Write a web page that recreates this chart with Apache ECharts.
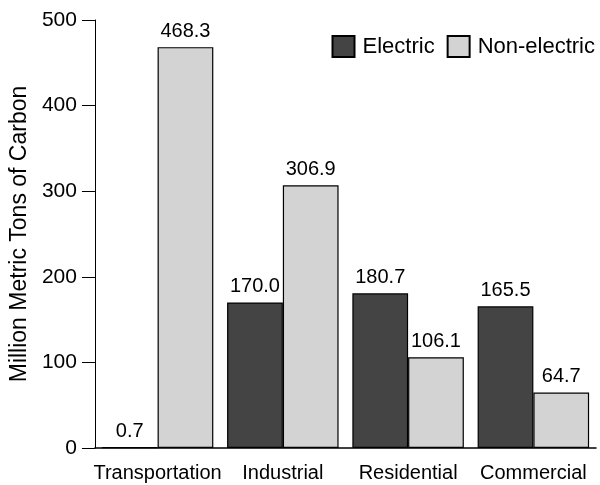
<!DOCTYPE html>
<html>
<head>
<meta charset="utf-8">
<script src="https://cdn.jsdelivr.net/npm/echarts@6/dist/echarts.min.js"></script>
<style>
  html, body { margin: 0; padding: 0; background: #ffffff; }
  #chart { width: 600px; height: 485px; }
</style>
</head>
<body>
<div id="chart"></div>
<script>
// Carbon emissions by end-use sector, split by electric / non-electric sources
const sectors = ['Transportation', 'Industrial', 'Residential', 'Commercial'];
const electric = [0.7, 170.0, 180.7, 165.5];
const nonElectric = [468.3, 306.9, 106.1, 64.7];
const yTicks = [0, 100, 200, 300, 400, 500];

const FONT = '"Liberation Sans", Arial, sans-serif';

const chart = echarts.init(document.getElementById('chart'), null, { renderer: 'canvas' });

function barSeries(name, data, color) {
  return {
    name: name,
    type: 'bar',
    data: data,
    barGap: '0%',
    barCategoryGap: '11%',
    itemStyle: { color: color, borderColor: '#000000', borderWidth: 1.2 },
    label: {
      show: true,
      position: 'top',
      distance: 6,
      fontFamily: FONT,
      fontSize: 20,
      color: '#000000',
      formatter: p => p.value.toFixed(1)
    }
  };
}

chart.setOption({
  animation: false,
  backgroundColor: '#ffffff',
  grid: { left: 91, right: 4, top: 20, bottom: 37, containLabel: false },
  legend: {
    right: 0,
    top: 30,
    itemWidth: 22,
    itemHeight: 21,
    itemGap: 12,
    icon: 'rect',
    textStyle: { fontFamily: FONT, fontSize: 22, color: '#000000', padding: [0, 0, 0, 3] },
    data: ['Electric', 'Non-electric']
  },
  xAxis: {
    type: 'category',
    data: sectors,
    axisLine: { lineStyle: { color: '#000000', width: 1.5 } },
    axisTick: { alignWithLabel: true, length: 7, lineStyle: { color: '#000000', width: 1 } },
    axisLabel: { fontFamily: FONT, fontSize: 20, color: '#000000', margin: 15, interval: 0 }
  },
  yAxis: {
    type: 'value',
    min: yTicks[0],
    max: yTicks[yTicks.length - 1],
    interval: 100,
    name: 'Million Metric Tons of Carbon',
    nameLocation: 'middle',
    nameRotate: 90,
    nameGap: 54,
    nameTextStyle: { fontFamily: FONT, fontSize: 23, color: '#000000' },
    axisLine: { show: true, lineStyle: { color: '#000000', width: 1 } },
    axisTick: { show: true, length: 13, lineStyle: { color: '#000000', width: 1 } },
    axisLabel: { fontFamily: FONT, fontSize: 21, color: '#000000', margin: 18 },
    splitLine: { show: false }
  },
  series: [
    barSeries('Electric', electric, '#444444'),
    barSeries('Non-electric', nonElectric, '#d3d3d3')
  ]
});
</script>
</body>
</html>
